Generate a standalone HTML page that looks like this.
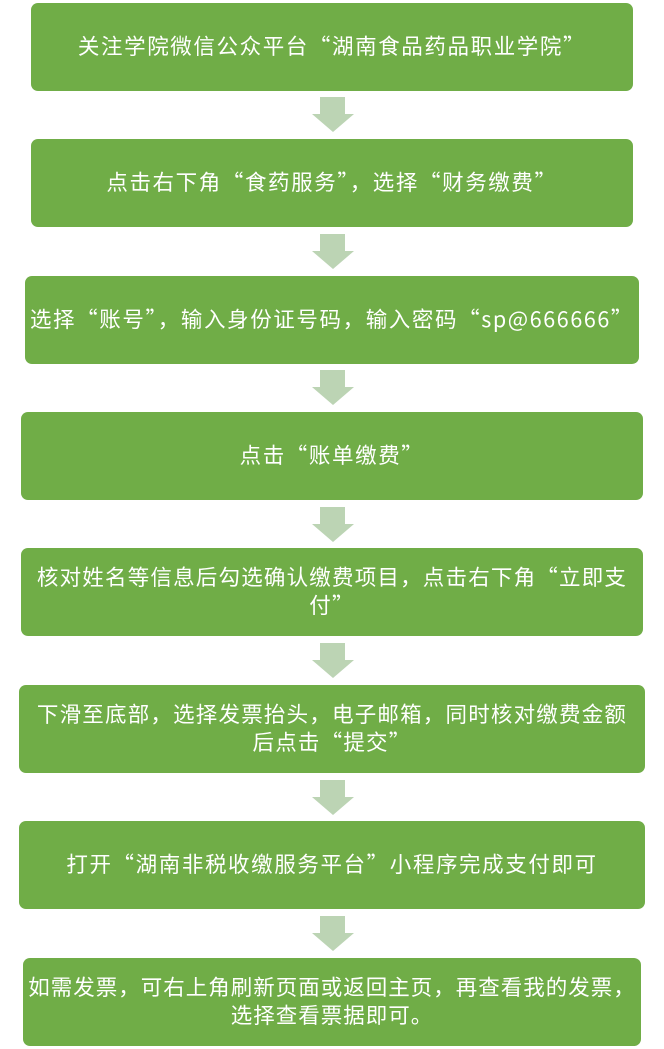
<!DOCTYPE html>
<html><head><meta charset="utf-8"><style>
body{margin:0;width:664px;height:1049px;background:#fff;position:relative;overflow:hidden;font-family:"Noto Sans CJK SC","Liberation Sans",sans-serif}
.b{position:absolute;background:#70ad47;border-radius:7px;color:#fff;font-size:21.5px;letter-spacing:1.6px;line-height:28px;display:flex;align-items:center;justify-content:center;text-align:center;box-sizing:border-box;white-space:nowrap;padding-bottom:2px}
svg.a{position:absolute;left:312px;width:42px;height:35px}
</style></head><body>
<div class="b" style="left:31px;top:3px;width:602px;height:88px">关注学院微信公众平台“湖南食品药品职业学院”</div>
<div class="b" style="left:31px;top:139px;width:602px;height:88px">点击右下角“食药服务”，选择“财务缴费”</div>
<div class="b" style="left:25px;top:276px;width:614px;height:88px">选择“账号”，输入身份证号码，输入密码“sp@666666”</div>
<div class="b" style="left:21px;top:412px;width:622px;height:88px">点击“账单缴费”</div>
<div class="b" style="left:21px;top:548px;width:622px;height:88px;letter-spacing:1.2px">核对姓名等信息后勾选确认缴费项目，点击右下角“立即支<br>付”</div>
<div class="b" style="left:19px;top:685px;width:626px;height:88px;letter-spacing:1.2px">下滑至底部，选择发票抬头，电子邮箱，同时核对缴费金额<br>后点击“提交”</div>
<div class="b" style="left:19px;top:821px;width:626px;height:88px">打开“湖南非税收缴服务平台”小程序完成支付即可</div>
<div class="b" style="left:23px;top:958px;width:618px;height:88px;letter-spacing:1px">如需发票，可右上角刷新页面或返回主页，再查看我的发票，<br>选择查看票据即可。</div>
<svg class="a" style="top:97px" viewBox="0 0 42 35"><path d="M8 0H33V17H42L21 35L0 17H8Z" fill="#bcd4b4"/></svg>
<svg class="a" style="top:234px" viewBox="0 0 42 35"><path d="M8 0H33V17H42L21 35L0 17H8Z" fill="#bcd4b4"/></svg>
<svg class="a" style="top:370px" viewBox="0 0 42 35"><path d="M8 0H33V17H42L21 35L0 17H8Z" fill="#bcd4b4"/></svg>
<svg class="a" style="top:507px" viewBox="0 0 42 35"><path d="M8 0H33V17H42L21 35L0 17H8Z" fill="#bcd4b4"/></svg>
<svg class="a" style="top:643px" viewBox="0 0 42 35"><path d="M8 0H33V17H42L21 35L0 17H8Z" fill="#bcd4b4"/></svg>
<svg class="a" style="top:780px" viewBox="0 0 42 35"><path d="M8 0H33V17H42L21 35L0 17H8Z" fill="#bcd4b4"/></svg>
<svg class="a" style="top:916px" viewBox="0 0 42 35"><path d="M8 0H33V17H42L21 35L0 17H8Z" fill="#bcd4b4"/></svg>
</body></html>
